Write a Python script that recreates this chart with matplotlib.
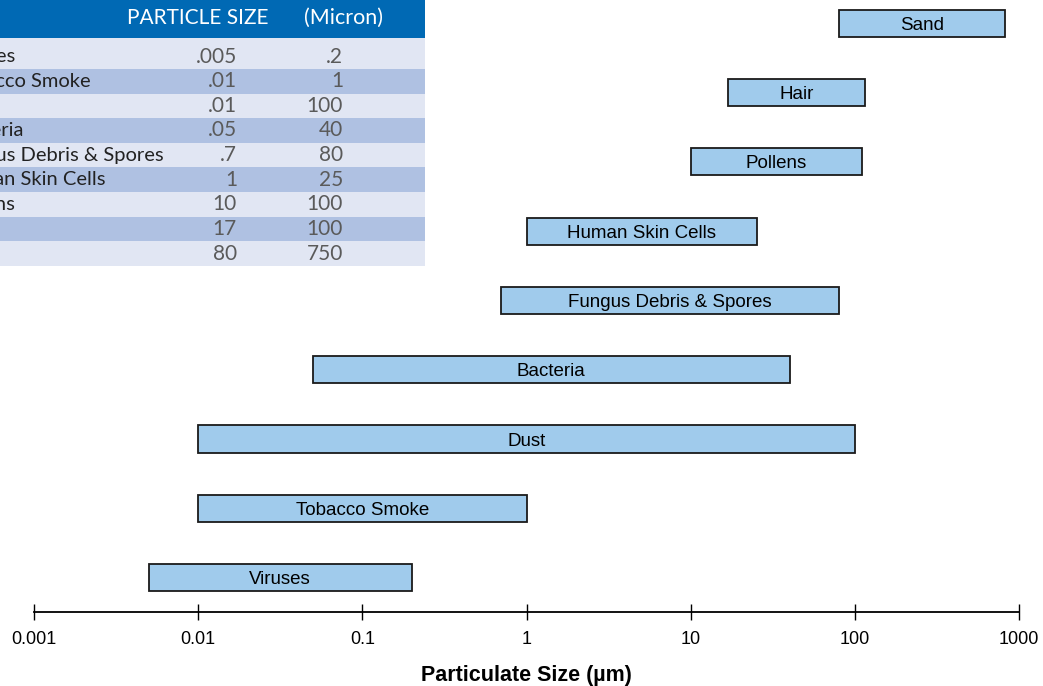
import matplotlib
matplotlib.use("Agg")
import matplotlib.pyplot as plt
from matplotlib.patches import Rectangle
from matplotlib.ticker import FixedLocator, NullLocator
import numpy as np

# ---- data ----
particles = ["Viruses", "Tobacco Smoke", "Dust", "Bacteria", "Fungus Debris & Spores",
             "Human Skin Cells", "Pollens", "Hair", "Sand"]
bar_low = [0.005, 0.01, 0.01, 0.05, 0.7, 1, 10, 17, 80]
bar_high = [0.2, 1, 100, 40, 80, 25.5, 110, 115, 820]
table_low = [0.005, 0.01, 0.01, 0.05, 0.7, 1, 10, 17, 80]
table_high = [0.2, 1, 100, 40, 80, 25, 100, 100, 750]
tick_values = [0.001, 0.01, 0.1, 1, 10, 100, 1000]
tick_labels = ["0.001", "0.01", "0.1", "1", "10", "100", "1000"]
header = ["PARTICLE SIZE", "(Micron)"]
xlabel = "Particulate Size (µm)"

W, H = 1043, 686
fig = plt.figure(figsize=(W / 100, H / 100), dpi=100)
fig.patch.set_facecolor("white")

# ---- main chart ----
ax = fig.add_axes([34 / W, (H - 612) / H, (1019 - 34) / W, 612 / H])
ax.set_xscale("log")
ax.set_xlim(0.001, 1000)
ax.set_ylim(-0.498, 8.339)
ypos = np.arange(len(particles))
widths = np.array(bar_high) - np.array(bar_low)
ax.barh(ypos, widths, left=bar_low, height=0.39, color="#A0CBEC",
        edgecolor="#1a1a1a", linewidth=1.3, zorder=2)
for y, lo, hi, name in zip(ypos, bar_low, bar_high, particles):
    ax.text(np.sqrt(lo * hi), y, name, ha="center", va="center_baseline",
            fontsize=13.5, family="Liberation Sans", color="black", zorder=3)

for s in ["top", "left", "right"]:
    ax.spines[s].set_visible(False)
ax.spines["bottom"].set_linewidth(1.3)
ax.yaxis.set_visible(False)
ax.xaxis.set_major_locator(FixedLocator(tick_values))
ax.xaxis.set_minor_locator(NullLocator())
ax.set_xticklabels(tick_labels, family="Liberation Sans", fontsize=13)
ax.tick_params(axis="x", direction="inout", length=11, width=1, pad=8)
ax.set_xlabel(xlabel, family="Liberation Sans", fontsize=15.5, fontweight="bold")
ax.xaxis.set_label_coords(0.5, -64 / 612)
ax.xaxis.label.set_va("center")
ax.patch.set_alpha(0)

# ---- overlay table (image-like) ----
tab = fig.add_axes([0, (H - 268) / H, 425 / W, 268 / H])
tab.set_xlim(0, 425)
tab.set_ylim(268, 0)
tab.axis("off")
tab.add_patch(Rectangle((0, 0), 425, 38, facecolor="#0069B4", edgecolor="none"))
row_edges = [38, 69] + [69 + 24.6 * k for k in range(1, 9)]
row_colors = ["#E1E6F3", "#AFC1E2"]


def fmt(v):
    return f"{v:g}".lstrip("0") if v < 1 else f"{v:g}"


for i, name in enumerate(particles):
    top = row_edges[i]
    bot = row_edges[i + 1]
    tab.add_patch(Rectangle((0, top), 425, bot - top,
                            facecolor=row_colors[i % 2], edgecolor="none"))
    cy = bot - 12.3
    tab.text(-49, cy, name, ha="left", va="center", fontsize=14.5,
             family="Lato", color="#222222", clip_on=False)
    tab.text(237, cy, fmt(table_low[i]), ha="right", va="center", fontsize=15,
             family="Lato", color="#5a5a5a")
    tab.text(343, cy, fmt(table_high[i]), ha="right", va="center", fontsize=15,
             family="Lato", color="#5a5a5a")
tab.text(198, 18, header[0], ha="center", va="center", fontsize=15,
         family="Lato", color="white")
tab.text(344, 18, header[1], ha="center", va="center", fontsize=15.5,
         family="Lato", color="white")

fig.savefig("out.png", dpi=100)
